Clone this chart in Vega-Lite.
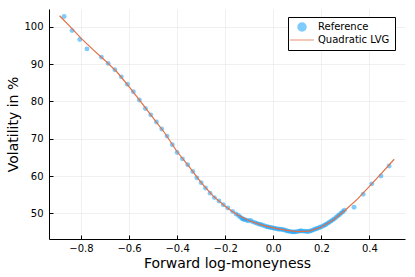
{
  "$schema": "https://vega.github.io/schema/vega-lite/v6.json",
  "width": 356,
  "height": 230,
  "autosize": "none",
  "padding": {"left": 49, "top": 9, "right": 10, "bottom": 38},
  "background": "white",
  "config": {
    "font": "DejaVu Sans",
    "view": {"stroke": null},
    "axis": {
      "domainColor": "#000000",
      "domainWidth": 1,
      "tickColor": "#000000",
      "tickSize": -4,
      "labelColor": "#000000",
      "labelFontSize": 10,
      "titleColor": "#000000",
      "titleFontSize": 14,
      "titleFontWeight": "normal",
      "gridColor": "#e6e6e6",
      "gridWidth": 0.6
    }
  },
  "datasets": {
    "dots": [
      {"x": -0.870, "y": 102.8}, {"x": -0.837, "y": 99.0}, {"x": -0.805, "y": 96.6}, {"x": -0.775, "y": 94.1},
      {"x": -0.715, "y": 91.9}, {"x": -0.687, "y": 90.2}, {"x": -0.659, "y": 88.5}, {"x": -0.632, "y": 86.6},
      {"x": -0.607, "y": 84.6}, {"x": -0.582, "y": 82.6}, {"x": -0.557, "y": 80.4}, {"x": -0.532, "y": 78.1},
      {"x": -0.510, "y": 76.4}, {"x": -0.486, "y": 74.5}, {"x": -0.464, "y": 72.6}, {"x": -0.442, "y": 70.7},
      {"x": -0.420, "y": 68.4}, {"x": -0.400, "y": 66.3}, {"x": -0.378, "y": 64.6}, {"x": -0.356, "y": 63.0},
      {"x": -0.335, "y": 61.2}, {"x": -0.318, "y": 59.5}, {"x": -0.300, "y": 58.2}, {"x": -0.282, "y": 56.8},
      {"x": -0.263, "y": 55.4}, {"x": -0.245, "y": 54.2}, {"x": -0.226, "y": 53.3}, {"x": -0.208, "y": 52.3},
      {"x": -0.189, "y": 51.4}, {"x": -0.169, "y": 50.5}, {"x": -0.155, "y": 49.8}, {"x": -0.145, "y": 49.4},
      {"x": -0.138, "y": 49.0}, {"x": -0.130, "y": 48.6}, {"x": -0.125, "y": 48.4}, {"x": -0.118, "y": 48.3},
      {"x": -0.111, "y": 48.1}, {"x": -0.103, "y": 48.0}, {"x": -0.094, "y": 48.1}, {"x": -0.086, "y": 47.7},
      {"x": -0.076, "y": 47.5}, {"x": -0.068, "y": 47.3}, {"x": -0.060, "y": 47.1}, {"x": -0.052, "y": 47.0},
      {"x": -0.044, "y": 46.8}, {"x": -0.035, "y": 46.6}, {"x": -0.027, "y": 46.4}, {"x": -0.020, "y": 46.3},
      {"x": -0.012, "y": 46.2}, {"x": -0.005, "y": 46.1}, {"x": 0.003, "y": 46.0}, {"x": 0.010, "y": 45.9},
      {"x": 0.018, "y": 45.8}, {"x": 0.025, "y": 45.7}, {"x": 0.033, "y": 45.7}, {"x": 0.040, "y": 45.6},
      {"x": 0.048, "y": 45.5}, {"x": 0.055, "y": 45.3}, {"x": 0.062, "y": 45.2}, {"x": 0.070, "y": 45.1},
      {"x": 0.078, "y": 45.0}, {"x": 0.085, "y": 45.0}, {"x": 0.092, "y": 45.0}, {"x": 0.100, "y": 45.1},
      {"x": 0.108, "y": 45.2}, {"x": 0.115, "y": 45.3}, {"x": 0.122, "y": 45.2}, {"x": 0.130, "y": 45.2},
      {"x": 0.138, "y": 45.1}, {"x": 0.145, "y": 45.1}, {"x": 0.153, "y": 45.2}, {"x": 0.160, "y": 45.4},
      {"x": 0.168, "y": 45.6}, {"x": 0.175, "y": 45.8}, {"x": 0.182, "y": 45.9}, {"x": 0.190, "y": 46.1},
      {"x": 0.197, "y": 46.3}, {"x": 0.205, "y": 46.5}, {"x": 0.212, "y": 46.8}, {"x": 0.219, "y": 47.0},
      {"x": 0.226, "y": 47.3}, {"x": 0.233, "y": 47.6}, {"x": 0.240, "y": 47.9}, {"x": 0.247, "y": 48.2},
      {"x": 0.254, "y": 48.5}, {"x": 0.261, "y": 48.9}, {"x": 0.268, "y": 49.3}, {"x": 0.275, "y": 49.6},
      {"x": 0.282, "y": 50.0}, {"x": 0.289, "y": 50.4}, {"x": 0.296, "y": 50.8}, {"x": 0.336, "y": 51.6},
      {"x": 0.374, "y": 55.1}, {"x": 0.410, "y": 57.9}, {"x": 0.448, "y": 60.0}, {"x": 0.482, "y": 62.7}
    ],
    "fit": [
      {"x": -0.889, "y": 103.0}, {"x": -0.85, "y": 100.4}, {"x": -0.80, "y": 97.0}, {"x": -0.75, "y": 93.9},
      {"x": -0.70, "y": 91.0}, {"x": -0.65, "y": 87.9}, {"x": -0.60, "y": 84.0}, {"x": -0.55, "y": 79.8},
      {"x": -0.50, "y": 75.6}, {"x": -0.45, "y": 71.4}, {"x": -0.40, "y": 66.5}, {"x": -0.35, "y": 62.5},
      {"x": -0.30, "y": 58.2}, {"x": -0.25, "y": 54.6}, {"x": -0.20, "y": 51.9}, {"x": -0.17, "y": 50.5},
      {"x": -0.15, "y": 49.6}, {"x": -0.10, "y": 48.0}, {"x": -0.05, "y": 46.9}, {"x": 0.0, "y": 46.1},
      {"x": 0.05, "y": 45.5}, {"x": 0.10, "y": 45.1}, {"x": 0.15, "y": 45.2}, {"x": 0.20, "y": 46.3},
      {"x": 0.25, "y": 48.2}, {"x": 0.30, "y": 50.9}, {"x": 0.35, "y": 53.8}, {"x": 0.40, "y": 57.2},
      {"x": 0.45, "y": 60.7}, {"x": 0.503, "y": 64.5}
    ]
  },
  "layer": [
    {
      "data": {"name": "dots"},
      "transform": [{"calculate": "'Reference'", "as": "series"}],
      "mark": {"type": "point", "filled": true, "opacity": 0.5, "size": 24, "strokeWidth": 0},
      "encoding": {
        "x": {
          "field": "x", "type": "quantitative",
          "scale": {"domain": [-0.933, 0.548], "nice": false, "zero": false},
          "axis": {"values": [-0.8, -0.6, -0.4, -0.2, 0, 0.2, 0.4], "format": ".1f", "title": "Forward log-moneyness", "labelPadding": 8, "titlePadding": 3}
        },
        "y": {
          "field": "y", "type": "quantitative",
          "scale": {"domain": [43.1, 104.8], "nice": false, "zero": false},
          "axis": {"values": [50, 60, 70, 80, 90, 100], "title": "Volatility in %", "labelPadding": 10, "titlePadding": 3}
        },
        "color": {
          "field": "series", "type": "nominal",
          "scale": {"domain": ["Reference", "Quadratic LVG"], "range": ["#009AFA", "#E26F46"]},
          "legend": {
            "title": null, "orient": "none", "legendX": 239, "legendY": 8,
            "padding": 5, "strokeColor": "#000000", "fillColor": "#ffffff",
            "labelFontSize": 10, "labelColor": "#000000", "symbolSize": 64, "symbolOpacity": 0.5,
            "symbolOffset": 4, "labelOffset": 11, "rowPadding": 1,
            "encode": {"symbols": {"update": {"stroke": {"scale": "color", "field": "value"}, "strokeWidth": {"value": 1.5}}}}
          }
        },
        "shape": {
          "field": "series", "type": "nominal",
          "scale": {"domain": ["Reference", "Quadratic LVG"], "range": ["circle", "M-3,0H3"]},
          "legend": null
        }
      }
    },
    {
      "data": {"name": "fit"},
      "transform": [{"calculate": "'Quadratic LVG'", "as": "series"}],
      "mark": {"type": "line", "strokeWidth": 1.2},
      "encoding": {
        "x": {"field": "x", "type": "quantitative"},
        "y": {"field": "y", "type": "quantitative"},
        "color": {"field": "series", "type": "nominal"}
      }
    }
  ]
}
